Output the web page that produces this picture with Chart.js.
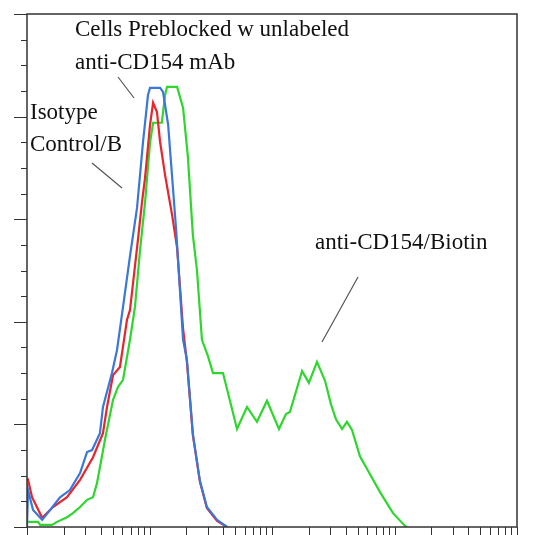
<!DOCTYPE html>
<html>
<head>
<meta charset="utf-8">
<script src="https://cdn.jsdelivr.net/npm/chart.js@4"></script>
<style>
  html, body { margin: 0; padding: 0; background: #fff; }
  canvas { display: block; }
</style>
</head>
<body>
<canvas id="histo" width="548" height="535"></canvas>
<script>
// blue = cells preblocked w unlabeled anti-CD154 mAb
var blueX = [1, 1.02, 1.12, 1.33, 1.54, 1.86, 2.24, 2.71, 3.09, 3.40, 3.94, 4.17, 4.94, 5.43, 6.08, 6.93, 7.91, 8.85, 9.72, 10.1, 12.2, 12.9, 14.2, 16.5, 18.8, 20.2, 22.6, 25.8, 29.4, 35.6, 42.9];
var blueY = [0, 7.2, 3.3, 1.4, 3.3, 5.8, 7.2, 10.5, 14.6, 15.0, 18.3, 23.4, 30.0, 34.5, 42.9, 52.8, 62.2, 75.0, 84.2, 85.6, 85.6, 84.8, 78.4, 57.9, 36.5, 32.6, 18.1, 9.0, 3.9, 1.4, 0];

// red = isotype control / biotin
var redX = [1, 1.02, 1.10, 1.33, 1.63, 2.12, 2.71, 3.46, 4.17, 4.50, 5.04, 5.74, 6.55, 6.93, 8.05, 8.69, 9.19, 10.1, 10.7, 11.5, 12.2, 13.4, 15.3, 16.8, 18.8, 20.2, 22.6, 25.8, 29.4, 35.6, 42.9];
var redY = [9.6, 9.2, 5.8, 1.8, 3.9, 5.8, 9.2, 13.6, 18.3, 23.4, 29.6, 31.2, 40.4, 42.3, 56.0, 63.4, 68.0, 78.4, 82.7, 80.9, 75.1, 68.6, 60.8, 54.4, 38.6, 32.2, 17.9, 8.8, 3.7, 1.2, 0];

// green = anti-CD154/Biotin
var greenX = [1, 1.23, 1.28, 1.60, 1.76, 2.12, 2.37, 2.71, 3.09, 3.46, 3.73, 4.33, 5.04, 5.53, 6.08, 6.93, 7.61, 8.36, 9.19, 10.1, 10.7, 12.6, 13.4, 13.9, 16.8, 18.8, 20.6, 22.6, 24.4, 26.8, 30.0, 33.0, 39.8, 51.8, 62.5, 75.4, 91.0, 114, 130, 140, 176, 200, 233, 271, 303, 333, 373, 409, 450, 522, 597, 762, 972, 1219, 1265];
var greenY = [1.0, 1.0, 0.4, 0.4, 1.0, 1.9, 2.7, 3.9, 5.3, 5.8, 8.6, 17.0, 24.8, 27.3, 28.7, 36.5, 42.9, 53.8, 63.2, 74.9, 78.8, 78.8, 84.2, 85.8, 85.8, 81.7, 72.0, 56.9, 50.1, 36.5, 33.3, 30.0, 30.0, 19.1, 23.4, 20.5, 24.6, 19.1, 22.0, 22.4, 30.4, 28.1, 32.2, 28.5, 23.9, 21.0, 19.1, 20.5, 18.9, 13.8, 11.3, 6.8, 2.7, 0.2, 0];

// axis ticks (no labels on this plot)
var xDecades = [1, 10, 100, 1000];
var xSteps = [1, 2, 3, 4, 5, 6, 7, 8, 9];
var yMinorTicks = [0, 5, 10, 15, 20, 25, 30, 35, 40, 45, 50, 55, 60, 65, 70, 75, 80, 85, 90, 95, 100];
var yMajorTicks = [0, 20, 40, 60, 80, 100];

function toPoints(xs, ys) {
    var pts = [];
    for (var i = 0; i < xs.length; i++) {
        pts.push({ x: xs[i], y: ys[i] });
    }
    return pts;
}

var xTicks = [];
xDecades.forEach(function (d) {
    xSteps.forEach(function (s) { xTicks.push(d * s); });
});
xTicks.push(10000);

var axisColor = '#333333';

// frame, tick marks and the hand labels
var framePlugin = {
    id: 'frame',
    afterDraw: function (chart) {
        var c = chart.ctx;
        var a = chart.chartArea;
        var xs = chart.scales.x;
        var ys = chart.scales.y;
        c.save();
        c.strokeStyle = axisColor;
        c.lineWidth = 1.5;
        c.strokeRect(a.left, a.top, a.right - a.left, a.bottom - a.top);

        c.lineWidth = 1;
        c.beginPath();
        xTicks.forEach(function (v) {
            var px = Math.round(xs.getPixelForValue(v)) + 0.5;
            c.moveTo(px, a.bottom);
            c.lineTo(px, a.bottom + 8);
        });
        yMinorTicks.forEach(function (v) {
            var py = Math.round(ys.getPixelForValue(v)) + 0.5;
            var len = yMajorTicks.indexOf(v) >= 0 ? 13 : 6;
            c.moveTo(a.left, py);
            c.lineTo(a.left - len, py);
        });
        c.stroke();

        // labels
        c.fillStyle = '#111';
        c.font = '23px "Liberation Serif", "DejaVu Serif", serif';
        c.textBaseline = 'middle';
        c.textAlign = 'left';
        c.fillText('Cells Preblocked w unlabeled', 75, 30);
        c.fillText('anti-CD154 mAb', 75, 63);
        c.fillText('Isotype', 30, 113);
        c.fillText('Control/B', 30, 145);
        c.fillText('anti-CD154/Biotin', 315, 243);

        c.strokeStyle = '#555';
        c.lineWidth = 1.2;
        c.beginPath();
        c.moveTo(118, 77); c.lineTo(134, 98);
        c.moveTo(92, 163); c.lineTo(122, 188);
        c.moveTo(358, 277); c.lineTo(322, 342);
        c.stroke();
        c.restore();
    }
};

var ctx = document.getElementById("histo");
var myChart = new Chart(ctx, {
    type: 'line',
    data: {
        datasets: [{
            label: "Preblocked",
            data: toPoints(blueX, blueY),
            borderColor: 'rgb(58, 120, 216)',
            borderWidth: 2.2
        }, {
            label: "Isotype Control/B",
            data: toPoints(redX, redY),
            borderColor: 'rgb(232, 36, 44)',
            borderWidth: 2.2
        }, {
            label: "anti-CD154/Biotin",
            data: toPoints(greenX, greenY),
            borderColor: 'rgb(46, 214, 46)',
            borderWidth: 2.2
        }]
    },
    options: {
        responsive: false,
        animation: false,
        layout: {
            padding: { left: 27, top: 14, right: 31, bottom: 8 }
        },
        elements: {
            point: { radius: 0 },
            line: { tension: 0 }
        },
        plugins: {
            legend: { display: false },
            tooltip: { enabled: false }
        },
        scales: {
            x: {
                type: 'logarithmic',
                min: 1,
                max: 10000,
                display: false
            },
            y: {
                min: 0,
                max: 100,
                display: false
            }
        }
    },
    plugins: [framePlugin]
});
</script>
</body>
</html>
